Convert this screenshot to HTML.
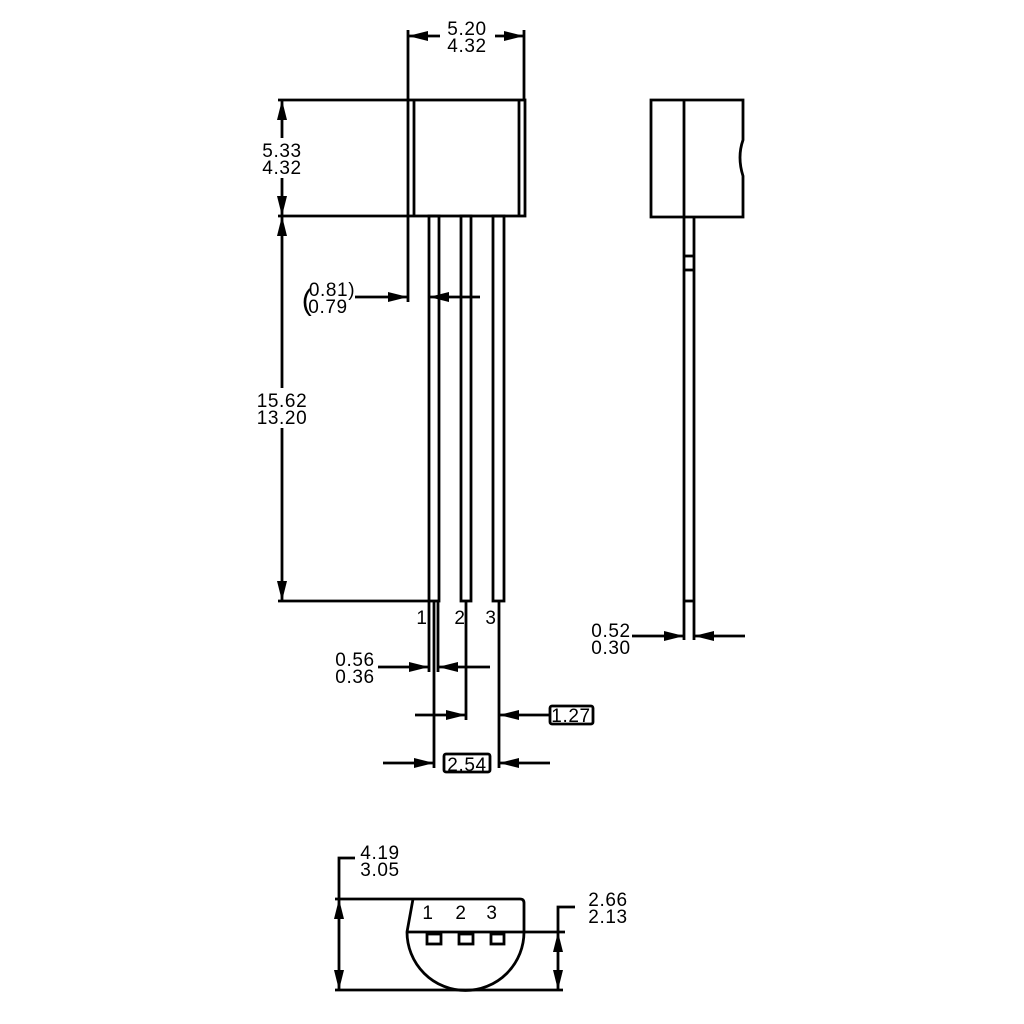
<!DOCTYPE html>
<html><head><meta charset="utf-8"><style>
html,body{margin:0;padding:0;background:#fff;width:1024px;height:1024px;overflow:hidden}
svg{display:block}
text{font-family:"Liberation Sans","DejaVu Sans",sans-serif;font-size:19px;letter-spacing:0.6px;fill:#000;text-anchor:middle}
</style></head><body>
<svg width="1024" height="1024" viewBox="0 0 1024 1024" xmlns="http://www.w3.org/2000/svg">
<g stroke="#000" stroke-width="2.8" fill="none">
<rect x="408" y="100" width="117" height="116"/>
<line x1="414" y1="100" x2="414" y2="216"/>
<line x1="519" y1="100" x2="519" y2="216"/>
<rect x="429" y="216" width="10" height="385"/>
<rect x="461" y="216" width="10" height="385"/>
<rect x="493" y="216" width="11" height="385"/>
<line x1="408" y1="30" x2="408" y2="100"/>
<line x1="524" y1="30" x2="524" y2="100"/>
<line x1="408" y1="36" x2="440" y2="36"/>
<line x1="495" y1="36" x2="524" y2="36"/>
<line x1="278" y1="100" x2="408" y2="100"/>
<line x1="278" y1="216" x2="408" y2="216"/>
<line x1="278" y1="601" x2="429" y2="601"/>
<line x1="282" y1="100" x2="282" y2="138"/>
<line x1="282" y1="178" x2="282" y2="216"/>
<line x1="282" y1="216" x2="282" y2="388"/>
<line x1="282" y1="428" x2="282" y2="601"/>
<line x1="408" y1="216" x2="408" y2="302"/>
<line x1="355" y1="297" x2="408" y2="297"/>
<line x1="429" y1="297" x2="480" y2="297"/>
<line x1="429" y1="601" x2="429" y2="672"/>
<line x1="438" y1="601" x2="438" y2="672"/>
<line x1="434" y1="601" x2="434" y2="768"/>
<line x1="466" y1="601" x2="466" y2="720"/>
<line x1="499" y1="601" x2="499" y2="768"/>
<line x1="378" y1="667" x2="429" y2="667"/>
<line x1="438" y1="667" x2="490" y2="667"/>
<line x1="415" y1="715" x2="466" y2="715"/>
<line x1="499" y1="715" x2="550" y2="715"/>
<line x1="383" y1="763" x2="434" y2="763"/>
<line x1="499" y1="763" x2="550" y2="763"/>
<rect x="550" y="706" width="43" height="18" rx="2"/>
<rect x="444" y="754" width="46" height="18" rx="2"/>
<path d="M651,100 L743,100 L743,140 Q737,157 743,176 L743,217 L651,217 Z"/>
<line x1="684" y1="100" x2="684" y2="217"/>
<line x1="684" y1="217" x2="684" y2="640"/>
<line x1="694" y1="217" x2="694" y2="640"/>
<line x1="684" y1="256" x2="694" y2="256"/>
<line x1="684" y1="270" x2="694" y2="270"/>
<line x1="684" y1="601" x2="694" y2="601"/>
<line x1="632" y1="636" x2="684" y2="636"/>
<line x1="694" y1="636" x2="745" y2="636"/>
<line x1="335" y1="899" x2="520" y2="899"/>
<line x1="335" y1="990" x2="563" y2="990"/>
<line x1="407" y1="932" x2="565" y2="932"/>
<path d="M413,899 L407,932 A58,58 0 0 0 524,932 L524,903 Q524,899 520,899"/>
<rect x="427" y="934" width="14" height="10"/>
<rect x="459" y="934" width="14" height="10"/>
<rect x="491" y="934" width="13" height="10"/>
<path d="M339,990 L339,858 L355,858"/>
<path d="M558,990 L558,907 L575,907"/>
</g>
<g fill="#000">
<polygon points="408,36 428,31 428,41"/>
<polygon points="524,36 504,31 504,41"/>
<polygon points="282,100 277,120 287,120"/>
<polygon points="282,216 277,196 287,196"/>
<polygon points="282,216 277,236 287,236"/>
<polygon points="282,601 277,581 287,581"/>
<polygon points="408,297 388,292 388,302"/>
<polygon points="429,297 449,292 449,302"/>
<polygon points="429,667 409,662 409,672"/>
<polygon points="438,667 458,662 458,672"/>
<polygon points="466,715 446,710 446,720"/>
<polygon points="499,715 519,710 519,720"/>
<polygon points="434,763 414,758 414,768"/>
<polygon points="499,763 519,758 519,768"/>
<polygon points="684,636 664,631 664,641"/>
<polygon points="694,636 714,631 714,641"/>
<polygon points="339,899 334,919 344,919"/>
<polygon points="339,990 334,970 344,970"/>
<polygon points="558,932 553,952 563,952"/>
<polygon points="558,990 553,970 563,970"/>
</g>
<text x="467" y="35">5.20</text>
<text x="467" y="52">4.32</text>
<text x="282" y="157">5.33</text>
<text x="282" y="174">4.32</text>
<text x="282" y="407">15.62</text>
<text x="282" y="424">13.20</text>
<text x="332" y="296">0.81)</text>
<text x="328" y="313">0.79</text>
<text x="307" y="310" style="font-size:30px">(</text>
<text x="422" y="624">1</text>
<text x="460" y="624">2</text>
<text x="491" y="624">3</text>
<text x="355" y="666">0.56</text>
<text x="355" y="683">0.36</text>
<text x="571" y="722">1.27</text>
<text x="467" y="771">2.54</text>
<text x="611" y="637">0.52</text>
<text x="611" y="654">0.30</text>
<text x="380" y="859">4.19</text>
<text x="380" y="876">3.05</text>
<text x="608" y="906">2.66</text>
<text x="608" y="923">2.13</text>
<text x="428" y="919">1</text>
<text x="461" y="919">2</text>
<text x="492" y="919">3</text>
</svg>
</body></html>
